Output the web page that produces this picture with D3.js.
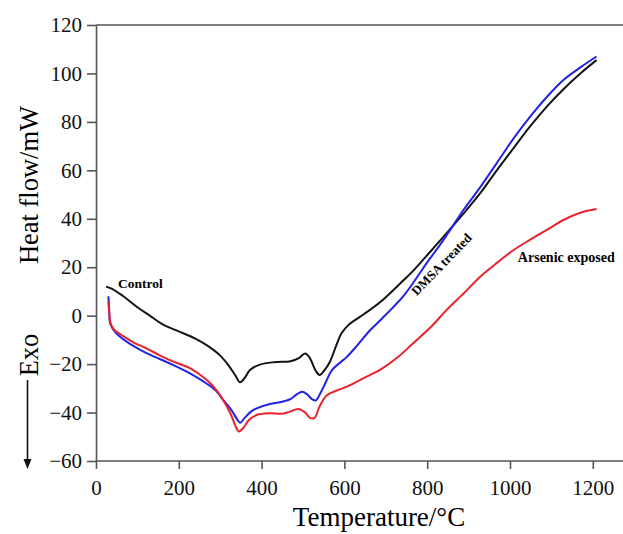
<!DOCTYPE html>
<html>
<head>
<meta charset="utf-8">
<script src="https://cdn.jsdelivr.net/npm/d3@7"></script>
<style>
body { margin: 0; background: #fff; }
svg text { font-family: "Liberation Serif", "Times New Roman", serif; }
</style>
</head>
<body>
<div id="chart"></div>
<script>
var xTicks = [0, 200, 400, 600, 800, 1000, 1200];
var yTicks = [-60, -40, -20, 0, 20, 40, 60, 80, 100, 120];

// [temperature, heat flow]
var control = [[24,12],[40,11],[66,8],[100,3.5],[130,0],[160,-3.5],[200,-6.5],[240,-9.5],[270,-12.5],[300,-16.5],[320,-20.5],[336,-24.5],[348,-27.5],[360,-25.5],[372,-22.4],[396,-20.2],[430,-19.2],[470,-18.8],[490,-17.5],[505,-15.6],[515,-17],[530,-22.5],[540,-24.5],[552,-22.5],[565,-19],[580,-12.5],[593,-7.3],[610,-3.8],[646,0.5],[686,5.5],[742,14.5],[766,18.5],[800,25],[839,32.5],[887,42],[930,51],[968,60],[1010,69.5],[1048,78],[1090,86.5],[1129,93.5],[1170,100],[1209,105.5]];
var dmsa = [[30,8],[32,2],[34,-3.1],[45,-6.5],[58,-8.7],[90,-12.5],[122,-15.5],[155,-18],[187,-20.4],[227,-23.8],[267,-28],[290,-31],[307,-34.8],[325,-38.5],[340,-42.5],[348,-44.2],[360,-42],[375,-39.5],[388,-38.3],[420,-36.5],[450,-35.5],[469,-34.5],[485,-32.5],[498,-31.4],[510,-32.5],[522,-34.5],[531,-35],[542,-32],[555,-27.5],[570,-22.5],[606,-17],[630,-12.5],[662,-6],[686,-2],[742,8],[766,13.5],[800,22],[830,29],[850,34],[887,43.5],[930,53.5],[968,63],[1010,73.5],[1055,83.5],[1090,90.5],[1129,97.3],[1170,102.5],[1209,107]];
var arsenic = [[30,6],[32,1],[36,-3.5],[45,-6],[66,-8.5],[90,-11],[122,-13.5],[155,-16.5],[187,-19],[227,-21.7],[267,-26.5],[290,-30.5],[307,-34.8],[325,-40.5],[338,-46],[345,-47.8],[355,-46.5],[370,-43],[388,-41],[420,-40.3],[450,-40.5],[469,-39.6],[489,-38.5],[505,-40],[518,-42.3],[528,-42.2],[540,-37.5],[557,-33],[580,-31],[606,-29.3],[650,-25.5],[686,-22.4],[730,-17],[766,-11.4],[810,-4.5],[847,2.4],[890,9.5],[928,16.1],[970,22],[1008,27],[1048,31.3],[1090,35.5],[1129,39.5],[1170,42.5],[1209,44]];

var series = [
	{name: "Control", values: control, color: "#141414"},
	{name: "DMSA treated", values: dmsa, color: "#2222e6"},
	{name: "Arsenic exposed", values: arsenic, color: "#e8232b"}
];

var width = 623, height = 534;
var plotLeft = 96, plotRight = 623, plotTop = 25, plotBottom = 461;

var x = d3.scaleLinear().domain([0, 1200]).range([plotLeft, 592.8]);
var y = d3.scaleLinear().domain([-60, 120]).range([plotBottom, plotTop]);

var svg = d3.select("#chart").append("svg")
	.attr("width", width)
	.attr("height", height);

// top frame line
svg.append("line")
	.attr("x1", plotLeft).attr("x2", plotRight)
	.attr("y1", plotTop).attr("y2", plotTop)
	.attr("stroke", "#555").attr("stroke-width", 1.6);

var xAxis = svg.append("g")
	.attr("transform", "translate(0," + plotBottom + ")")
	.call(d3.axisBottom(x).tickValues(xTicks).tickFormat(d3.format("d")).tickSize(8).tickPadding(11).tickSizeOuter(0));
xAxis.select(".domain").attr("d", "M" + plotLeft + ",0H" + plotRight);

var yAxis = svg.append("g")
	.attr("transform", "translate(" + plotLeft + ",0)")
	.call(d3.axisLeft(y).tickValues(yTicks).tickFormat(d3.format("d")).tickSize(9).tickPadding(5).tickSizeOuter(0));

svg.selectAll(".domain, .tick line").attr("stroke", "#555").attr("stroke-width", 1.6);
svg.selectAll(".tick text")
	.attr("fill", "#111")
	.style("font-size", "21px")
	.style("font-family", "'Liberation Serif', serif");

var line = d3.line()
	.x(d => x(d[0]))
	.y(d => y(d[1]))
	.curve(d3.curveCatmullRom.alpha(0.5));

svg.selectAll(".series")
	.data(series)
	.enter()
	.append("path")
		.attr("class", "series")
		.attr("fill", "none")
		.attr("stroke", d => d.color)
		.attr("stroke-width", 2)
		.attr("stroke-linejoin", "round")
		.attr("d", d => line(d.values));

// curve labels
svg.append("text")
	.attr("x", x(53)).attr("y", y(11.4))
	.style("font-size", "13.5px").style("font-weight", "bold")
	.text("Control");

svg.append("text")
	.attr("transform", "translate(" + x(775) + "," + y(8) + ") rotate(-46)")
	.style("font-size", "13px").style("font-weight", "bold")
	.text("DMSA treated");

svg.append("text")
	.attr("x", x(1019)).attr("y", y(22.2))
	.style("font-size", "14px").style("font-weight", "bold")
	.text("Arsenic exposed");

// axis titles
svg.append("text")
	.attr("x", 379).attr("y", 526)
	.attr("text-anchor", "middle")
	.style("font-size", "27px")
	.text("Temperature/°C");

svg.append("text")
	.attr("transform", "translate(38,185) rotate(-90)")
	.attr("text-anchor", "middle")
	.style("font-size", "26.5px")
	.text("Heat flow/mW");

svg.append("text")
	.attr("transform", "translate(38,355) rotate(-90)")
	.attr("text-anchor", "middle")
	.style("font-size", "26.5px")
	.text("Exo");

// exo arrow
svg.append("line")
	.attr("x1", 27.5).attr("x2", 27.5)
	.attr("y1", 380).attr("y2", 462)
	.attr("stroke", "#111").attr("stroke-width", 1.6);
svg.append("path")
	.attr("d", "M23.5,459L27.5,469L31.5,459Z")
	.attr("fill", "#111");
</script>
</body>
</html>
